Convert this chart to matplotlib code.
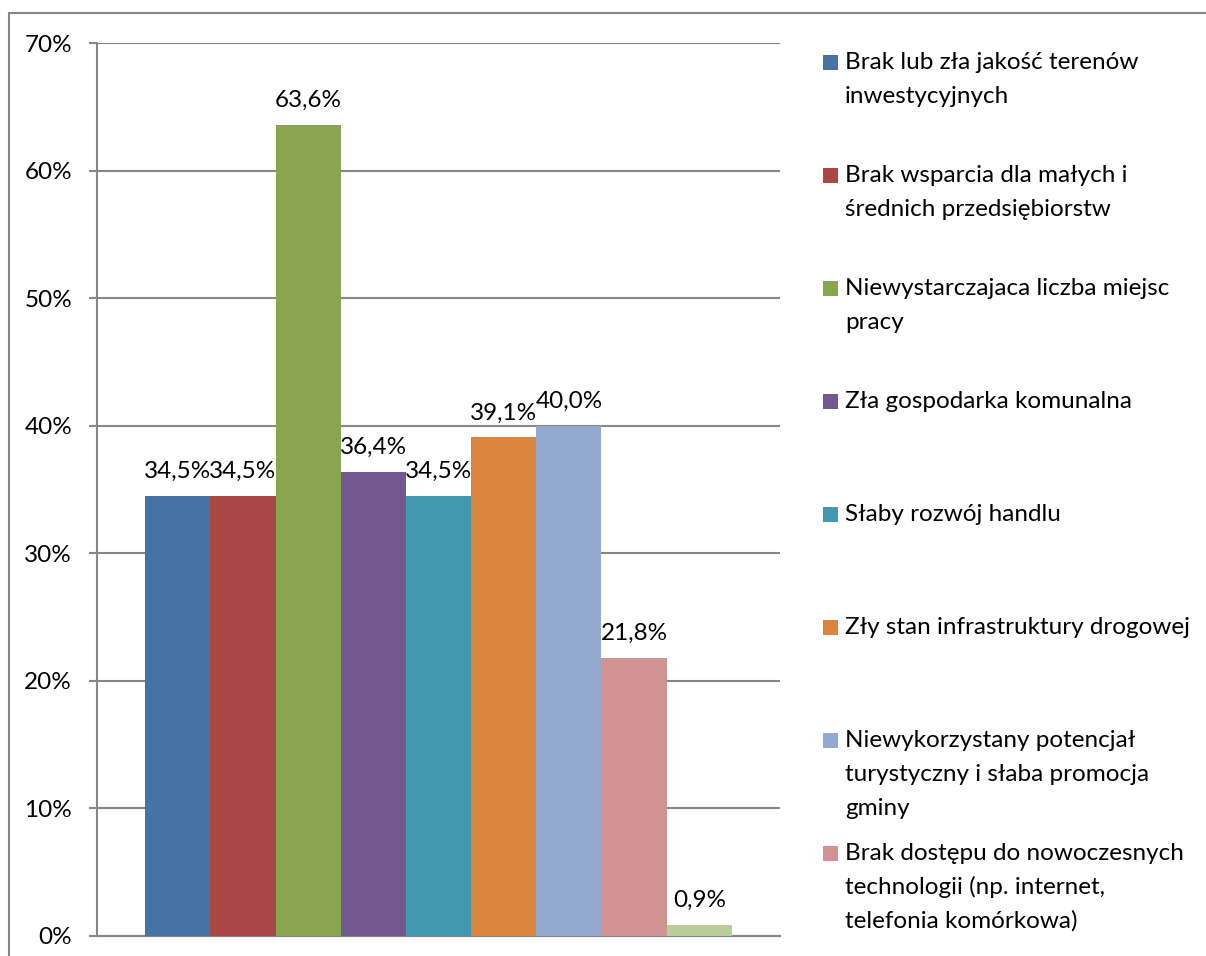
import matplotlib
matplotlib.use('Agg')
import matplotlib.pyplot as plt
from matplotlib.patches import Rectangle

plt.rcParams['font.family'] = ['Lato', 'DejaVu Sans']

labels = [
    'Brak lub zła jakość terenów\ninwestycyjnych',
    'Brak wsparcia dla małych i\nśrednich przedsiębiorstw',
    'Niewystarczajaca liczba miejsc\npracy',
    'Zła gospodarka komunalna',
    'Słaby rozwój handlu',
    'Zły stan infrastruktury drogowej',
    'Niewykorzystany potencjał\nturystyczny i słaba promocja\ngminy',
    'Brak dostępu do nowoczesnych\ntechnologii (np. internet,\ntelefonia komórkowa)',
    'Inne',
]
values = [34.5, 34.5, 63.6, 36.4, 34.5, 39.1, 40.0, 21.8, 0.9]
colors = ['#4572A7', '#AA4643', '#89A54E', '#71588F', '#4198AF',
          '#DB843D', '#93A9CF', '#D19392', '#B9CD96']
yticks = [0, 10, 20, 30, 40, 50, 60, 70]

W, H = 1206, 956
fs = 17.5
fig = plt.figure(figsize=(W / 100, H / 100), dpi=100)
ax = fig.add_axes([97 / W, 1 - 936 / H, (780 - 97) / W, (936 - 43) / H])

grey = '#868686'
# outer chart frame
fig.patches.append(Rectangle((9 / W, -0.1), 1.2, 1 - 13 / H + 0.1,
                             transform=fig.transFigure, fill=False,
                             edgecolor=grey, linewidth=1.5))

pos = list(range(len(values)))
ax.bar(pos, values, width=1.0, color=colors, zorder=3)
for x, v in zip(pos, values):
    ax.annotate(('%.1f%%' % v).replace('.', ','), (x, v),
                xytext=(0, 17.5), textcoords='offset points',
                ha='center', va='center', fontsize=fs, color='black')

gap = 48 / 65.0
ax.set_xlim(-0.5 - gap, len(values) - 0.5 + gap)
ax.set_ylim(0, 70)
ax.set_yticks(yticks)
ax.set_yticklabels(['%d%%' % t for t in yticks], fontsize=fs)
ax.set_xticks([])
ax.yaxis.grid(True, color=grey, linewidth=1.5, zorder=0)
ax.tick_params(axis='y', length=6, width=1.5, color=grey, pad=12)
for s in ['top', 'right']:
    ax.spines[s].set_visible(False)
ax.spines['left'].set_color(grey)
ax.spines['left'].set_linewidth(1.5)
ax.spines['bottom'].set_color(grey)
ax.spines['bottom'].set_linewidth(1.5)

# legend, fixed slot spacing as in the original chart
y0 = 62
step = 113
line_h = 34
for i, (lab, c) in enumerate(zip(labels, colors)):
    yc = y0 + i * step
    if yc > H:
        break
    fig.patches.append(Rectangle((823 / W, 1 - (yc + 8) / H), 15 / W, 15 / H,
                                 transform=fig.transFigure, facecolor=c,
                                 edgecolor='none'))
    for j, line in enumerate(lab.split('\n')):
        fig.text(845 / W, 1 - (yc + 7 + j * line_h) / H, line, ha='left',
                 va='baseline', fontsize=fs)

fig.savefig('out.png', dpi=100)
